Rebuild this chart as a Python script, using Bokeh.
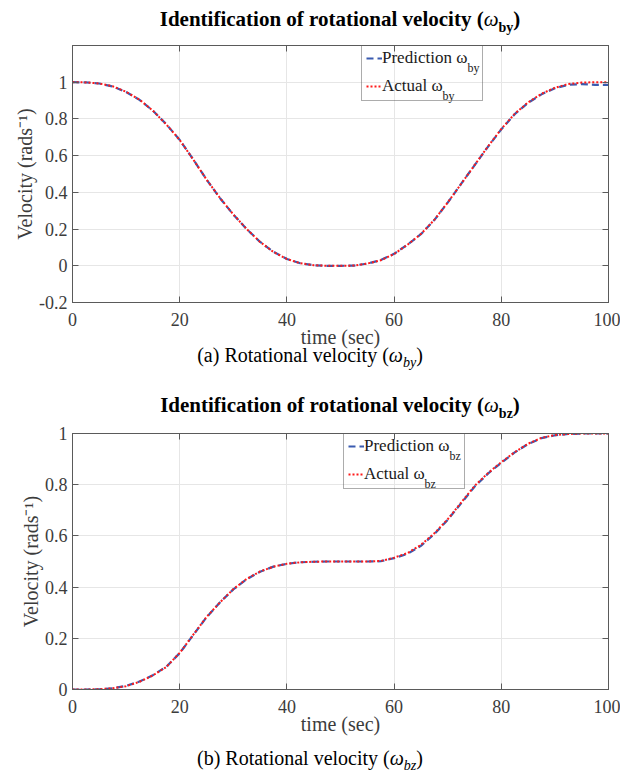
from bokeh.plotting import figure
from bokeh.models import (Div, Legend, LegendItem, Label, LinearAxis,
                          FixedTicker, Range1d)
from bokeh.layouts import column
from bokeh.embed import file_html
from bokeh.resources import INLINE

# ---------------- data ----------------
time_s = [0, 2.5, 5, 7.5, 10, 12.5, 15, 17.5, 20, 22.5, 25, 27.5, 30, 32.5,
          35, 37.5, 40, 42.5, 45, 47.5, 50, 52.5, 55, 57.5, 60, 62.5, 65,
          67.5, 70, 72.5, 75, 77.5, 80, 82.5, 85, 87.5, 90, 92.5, 95, 97.5, 100]

actual_by = [1.000, 0.999, 0.993, 0.978, 0.948, 0.905, 0.845, 0.770, 0.685,
             0.580, 0.470, 0.370, 0.280, 0.200, 0.130, 0.075, 0.037, 0.014,
             0.003, 0.000, 0.000, 0.001, 0.012, 0.030, 0.064, 0.115, 0.173,
             0.250, 0.345, 0.446, 0.548, 0.650, 0.745, 0.828, 0.890, 0.937,
             0.970, 0.990, 0.998, 1.000, 1.000]
pred_by = [1.000, 0.999, 0.993, 0.977, 0.947, 0.904, 0.845, 0.771, 0.686,
           0.581, 0.470, 0.369, 0.279, 0.200, 0.130, 0.076, 0.037, 0.014,
           0.003, 0.000, 0.000, 0.001, 0.012, 0.031, 0.065, 0.115, 0.172,
           0.249, 0.344, 0.446, 0.547, 0.648, 0.743, 0.826, 0.888, 0.934,
           0.967, 0.986, 0.990, 0.986, 0.986]

actual_bz = [0.000, 0.000, 0.001, 0.005, 0.013, 0.030, 0.055, 0.088, 0.143,
             0.213, 0.283, 0.340, 0.392, 0.432, 0.461, 0.480, 0.491, 0.497,
             0.499, 0.500, 0.500, 0.500, 0.500, 0.502, 0.515, 0.533, 0.565,
             0.610, 0.665, 0.730, 0.795, 0.845, 0.888, 0.927, 0.960, 0.983,
             0.994, 0.998, 1.000, 1.000, 1.000]
pred_bz = [0.000, 0.000, 0.001, 0.005, 0.014, 0.031, 0.056, 0.089, 0.142,
           0.212, 0.282, 0.340, 0.391, 0.431, 0.460, 0.480, 0.491, 0.497,
           0.499, 0.500, 0.500, 0.500, 0.500, 0.501, 0.513, 0.530, 0.561,
           0.607, 0.663, 0.727, 0.792, 0.843, 0.886, 0.926, 0.959, 0.982,
           0.993, 0.998, 1.000, 1.000, 1.000]

x_limits = (0, 100)
x_ticks = [0, 20, 40, 60, 80, 100]
x_tick_labels = ["0", "20", "40", "60", "80", "100"]

y_limits_by = (-0.2, 1.2)
y_ticks_by = [-0.2, 0, 0.2, 0.4, 0.6, 0.8, 1.0]
y_tick_labels_by = ["-0.2", "0", "0.2", "0.4", "0.6", "0.8", "1"]

y_limits_bz = (0, 1)
y_ticks_bz = [0, 0.2, 0.4, 0.6, 0.8, 1.0]
y_tick_labels_bz = ["0", "0.2", "0.4", "0.6", "0.8", "1"]

x_label = "time (sec)"
y_label = "Velocity (rads\u207b\u00b9)"
title_main = "Identification of rotational velocity ("
pred_name = "Prediction \u03c9"
actual_name = "Actual \u03c9"

# ---------------- style ----------------
FONT = "Liberation Serif"
CSS_FONT = "'Liberation Serif', 'Times New Roman', Times, serif"
W = 620
BL, BR = 72, 12
AXC = "#5a5a5a"
TICKC = "#3c3c3c"
GRIDC = "#e6e6e6"
BLUE = "#3a5bb0"
RED = "#ff1a1a"

LEG_PAD, LEG_GW, LEG_LH, LEG_SP, LEG_LW = 4, 16, 20, 8, 96
LEG_H = 2 * LEG_PAD + 2 * LEG_LH + LEG_SP
PRED_TXT_W, ACT_TXT_W = 86, 61
SUB_DROP = 8
BOTTOM_BORDER = 51


def make_panel(pred, actual, ylim, yticks, ylabels, sub, frame_h, top_border,
               legend_x):
    p = figure(width=W, height=top_border + frame_h + BOTTOM_BORDER,
               x_range=Range1d(*x_limits), y_range=Range1d(*ylim),
               output_backend="svg", toolbar_location=None,
               min_border_left=BL, min_border_right=BR,
               min_border_top=top_border, min_border_bottom=BOTTOM_BORDER)
    p.background_fill_color = "white"
    p.border_fill_color = "white"
    p.outline_line_color = AXC
    p.outline_line_width = 1

    xa = p.below[0]
    ya = p.left[0]
    xa.ticker = FixedTicker(ticks=x_ticks)
    ya.ticker = FixedTicker(ticks=yticks)
    xa.major_label_overrides = dict(zip(x_ticks, x_tick_labels))
    ya.major_label_overrides = dict(zip(yticks, ylabels))
    for ax in (xa, ya):
        ax.axis_line_color = AXC
        ax.major_tick_line_color = AXC
        ax.major_tick_in = 6
        ax.major_tick_out = 0
        ax.minor_tick_in = 0
        ax.minor_tick_out = 0
        ax.major_label_text_font = FONT
        ax.major_label_text_font_size = "18px"
        ax.major_label_text_color = TICKC
        ax.axis_label_text_font = FONT
        ax.axis_label_text_font_size = "20px"
        ax.axis_label_text_font_style = "normal"
        ax.axis_label_text_color = TICKC
    xa.axis_label = x_label
    ya.axis_label = y_label
    xa.major_label_standoff = 10
    xa.axis_label_standoff = -3
    ya.major_label_standoff = 5
    ya.axis_label_standoff = 0

    top = LinearAxis(ticker=FixedTicker(ticks=x_ticks))
    right = LinearAxis(ticker=FixedTicker(ticks=yticks))
    for ax in (top, right):
        ax.axis_line_color = AXC
        ax.major_tick_line_color = AXC
        ax.major_tick_in = 6
        ax.major_tick_out = 0
        ax.minor_tick_in = 0
        ax.minor_tick_out = 0
        ax.major_label_text_font_size = "0px"
        ax.major_label_text_color = None
        ax.major_label_standoff = 0
    p.add_layout(top, "above")
    p.add_layout(right, "right")

    p.xgrid.ticker = FixedTicker(ticks=x_ticks)
    p.ygrid.ticker = FixedTicker(ticks=yticks)
    p.xgrid.grid_line_color = GRIDC
    p.ygrid.grid_line_color = GRIDC

    r_pred = p.line(time_s, pred, line_color=BLUE, line_width=2.2,
                    line_dash="7 4")
    r_act = p.line(time_s, actual, line_color=RED, line_width=2,
                   line_dash="2 2")

    legend = Legend(items=[LegendItem(label=pred_name, renderers=[r_pred]),
                           LegendItem(label=actual_name, renderers=[r_act])],
                    location=(legend_x, frame_h - LEG_H),
                    label_text_font=FONT, label_text_font_size="17px",
                    label_text_color="#1a1a1a",
                    glyph_width=LEG_GW, glyph_height=LEG_LH,
                    label_height=LEG_LH, label_width=LEG_LW,
                    label_standoff=0, padding=LEG_PAD, spacing=LEG_SP,
                    margin=0, border_line_color=AXC, border_line_width=1,
                    background_fill_alpha=0)
    p.add_layout(legend)

    text_x0 = legend_x + LEG_PAD + LEG_GW
    row1 = frame_h - LEG_PAD - LEG_LH / 2
    row2 = row1 - LEG_LH - LEG_SP
    for xx, yy in ((text_x0 + PRED_TXT_W, row1 - SUB_DROP),
                   (text_x0 + ACT_TXT_W, row2 - SUB_DROP)):
        p.add_layout(Label(x=xx, y=yy, x_units="screen", y_units="screen",
                           text=sub, text_font=FONT, text_font_size="12px",
                           text_color="#1a1a1a", text_baseline="middle",
                           text_align="left", level="overlay"))
    return p


def title_div(sub, height, pad_top):
    html = (f'<div style="padding-top:{pad_top}px;margin-left:{BL}px;'
            f'width:{W - BL - BR}px;text-align:center;white-space:nowrap;'
            f'font-family:{CSS_FONT};font-size:21px;font-weight:bold;'
            f'color:#000;line-height:25px;">{title_main}'
            f'<span style="font-weight:normal;font-style:italic;">\u03c9</span>'
            f'<span style="font-size:14px;position:relative;top:6px;">{sub}</span>)</div>')
    return Div(text=html, width=W, height=height, margin=0)


def caption_div(tag, sub, height, offset, line_h):
    html = (f'<div style="position:relative;top:{offset}px;width:{W}px;'
            f'text-align:center;white-space:nowrap;'
            f'font-family:{CSS_FONT};font-size:20px;color:#000;line-height:{line_h}px;">'
            f'({tag}) Rotational velocity (<i>\u03c9</i>'
            f'<span style="font-size:14px;position:relative;top:5px;font-style:italic;">{sub}</span>)</div>')
    return Div(text=html, width=W, height=height, margin=0)


p1 = make_panel(pred_by, actual_by, y_limits_by, y_ticks_by, y_tick_labels_by,
                "by", 257, 8, 289)
p2 = make_panel(pred_bz, actual_bz, y_limits_bz, y_ticks_bz, y_tick_labels_bz,
                "bz", 256, 9, 271)

layout = column(title_div("by", 37, 7), p1, caption_div("a", "by", 12, -4, 12),
                title_div("bz", 59, 28), p2, caption_div("b", "bz", 36, 7, 22),
                spacing=0)

open("out.html", "w").write(file_html(layout, INLINE))
